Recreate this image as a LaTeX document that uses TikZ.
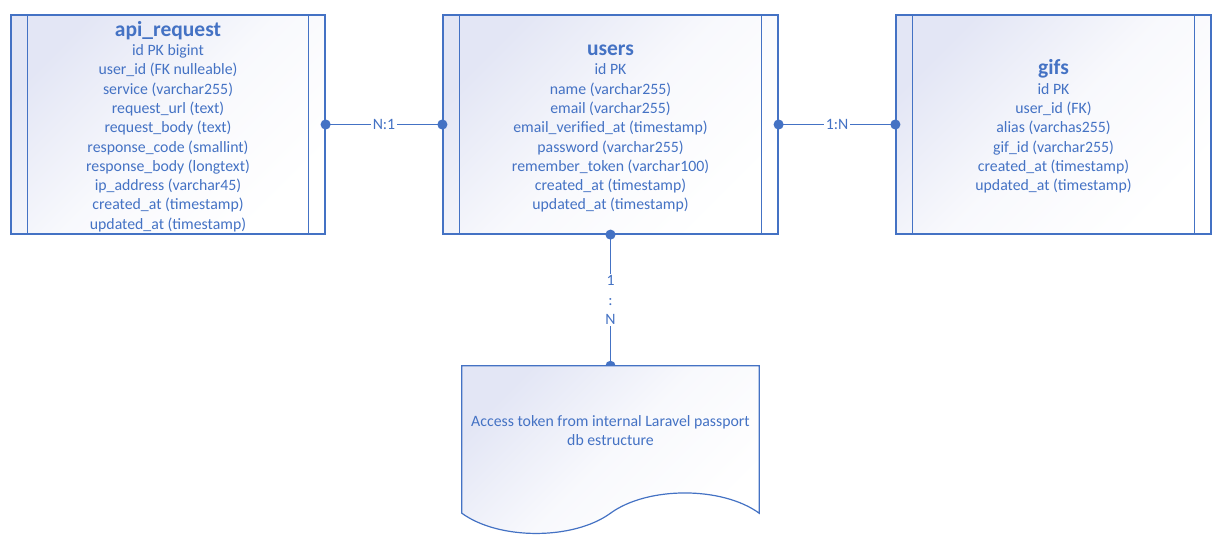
\documentclass[tikz,border=0pt]{standalone}
\usepackage{fontspec}
\setmainfont{Carlito}
\usetikzlibrary{positioning,arrows.meta}
\definecolor{erblue}{HTML}{4472C4}
\definecolor{erfill}{HTML}{E3E6F5}
\newcommand{\enttitle}[1]{{\fontsize{21.5pt}{21pt}\selectfont\bfseries\rule{0pt}{19pt}#1}}

\begin{document}
\begin{tikzpicture}[on grid,
  entity/.style={draw=erblue,line width=1.2pt,top color=erfill,bottom color=white,
    middle color=white!75!erfill,shading angle=45,
    text=erblue,align=center,inner sep=0pt,minimum height=219pt,
    font=\fontsize{15.8pt}{19.3pt}\selectfont},
  erline/.style={draw=erblue,line width=1.2pt},
  rel/.style={draw=erblue,line width=1.5pt,{Circle[length=10pt]}-{Circle[length=10pt]},
    shorten <=-5pt,shorten >=-5pt},
  card/.style={fill=white,text=erblue,inner sep=1.5pt,font=\fontsize{15.8pt}{19.3pt}\selectfont},
  docbox/.style={inner sep=0pt,minimum width=297pt,minimum height=129pt},
  docshape/.style={draw=erblue,line width=1.2pt,top color=erfill,bottom color=white,
    middle color=white!75!erfill,shading angle=45},
  doctext/.style={text=erblue,align=center,font=\fontsize{15.8pt}{19.3pt}\selectfont}]
\useasboundingbox (0,0) rectangle (1221pt,-546pt);

% tables
\node[entity,minimum width=335pt] (users) at (610.5pt,-124.5pt)
  {\enttitle{users}\\id PK\\name (varchar255)\\email (varchar255)\\email\_verified\_at (timestamp)\\
   password (varchar255)\\remember\_token (varchar100)\\created\_at (timestamp)\\updated\_at (timestamp)};
\node[entity,minimum width=314pt,left=442.5pt of users] (apireq)
  {\enttitle{api\_request}\\id PK bigint\\user\_id (FK nulleable)\\service (varchar255)\\request\_url (text)\\
   request\_body (text)\\response\_code (smallint)\\response\_body (longtext)\\ip\_address (varchar45)\\
   created\_at (timestamp)\\updated\_at (timestamp)};
\node[entity,minimum width=315pt,right=443pt of users] (gifs)
  {\enttitle{gifs}\\id PK\\user\_id (FK)\\alias (varchas255)\\gif\_id (varchar255)\\
   created\_at (timestamp)\\updated\_at (timestamp)};
\foreach \t in {apireq,users,gifs}
  \draw[erline] ([xshift=17pt]\t.north west) -- ([xshift=17pt]\t.south west)
    ([xshift=-17pt]\t.north east) -- ([xshift=-17pt]\t.south east);

% passport document
\node[docbox,below=306pt of users] (token) {};

% relations
\draw[rel] (apireq.east) -- node[card] {N:1} (users.west);
\draw[rel] (users.east) -- node[card] {1:N} (gifs.west);
\draw[rel] (users.south) -- node[card,align=center] {1\\:\\N} (token.north);

\draw[docshape] (token.north west) -- (token.north east) -- ([yshift=-18pt]token.south east)
  .. controls +(-37pt,27pt) and +(37pt,27pt) .. ([yshift=-18pt]token.south)
  .. controls +(-37pt,-27pt) and +(37pt,-27pt) .. ([yshift=-18pt]token.south west) -- cycle;
\node[doctext] (tokentext) at (token) {Access token from internal Laravel passport\\db estructure};
\end{tikzpicture}
\end{document}
